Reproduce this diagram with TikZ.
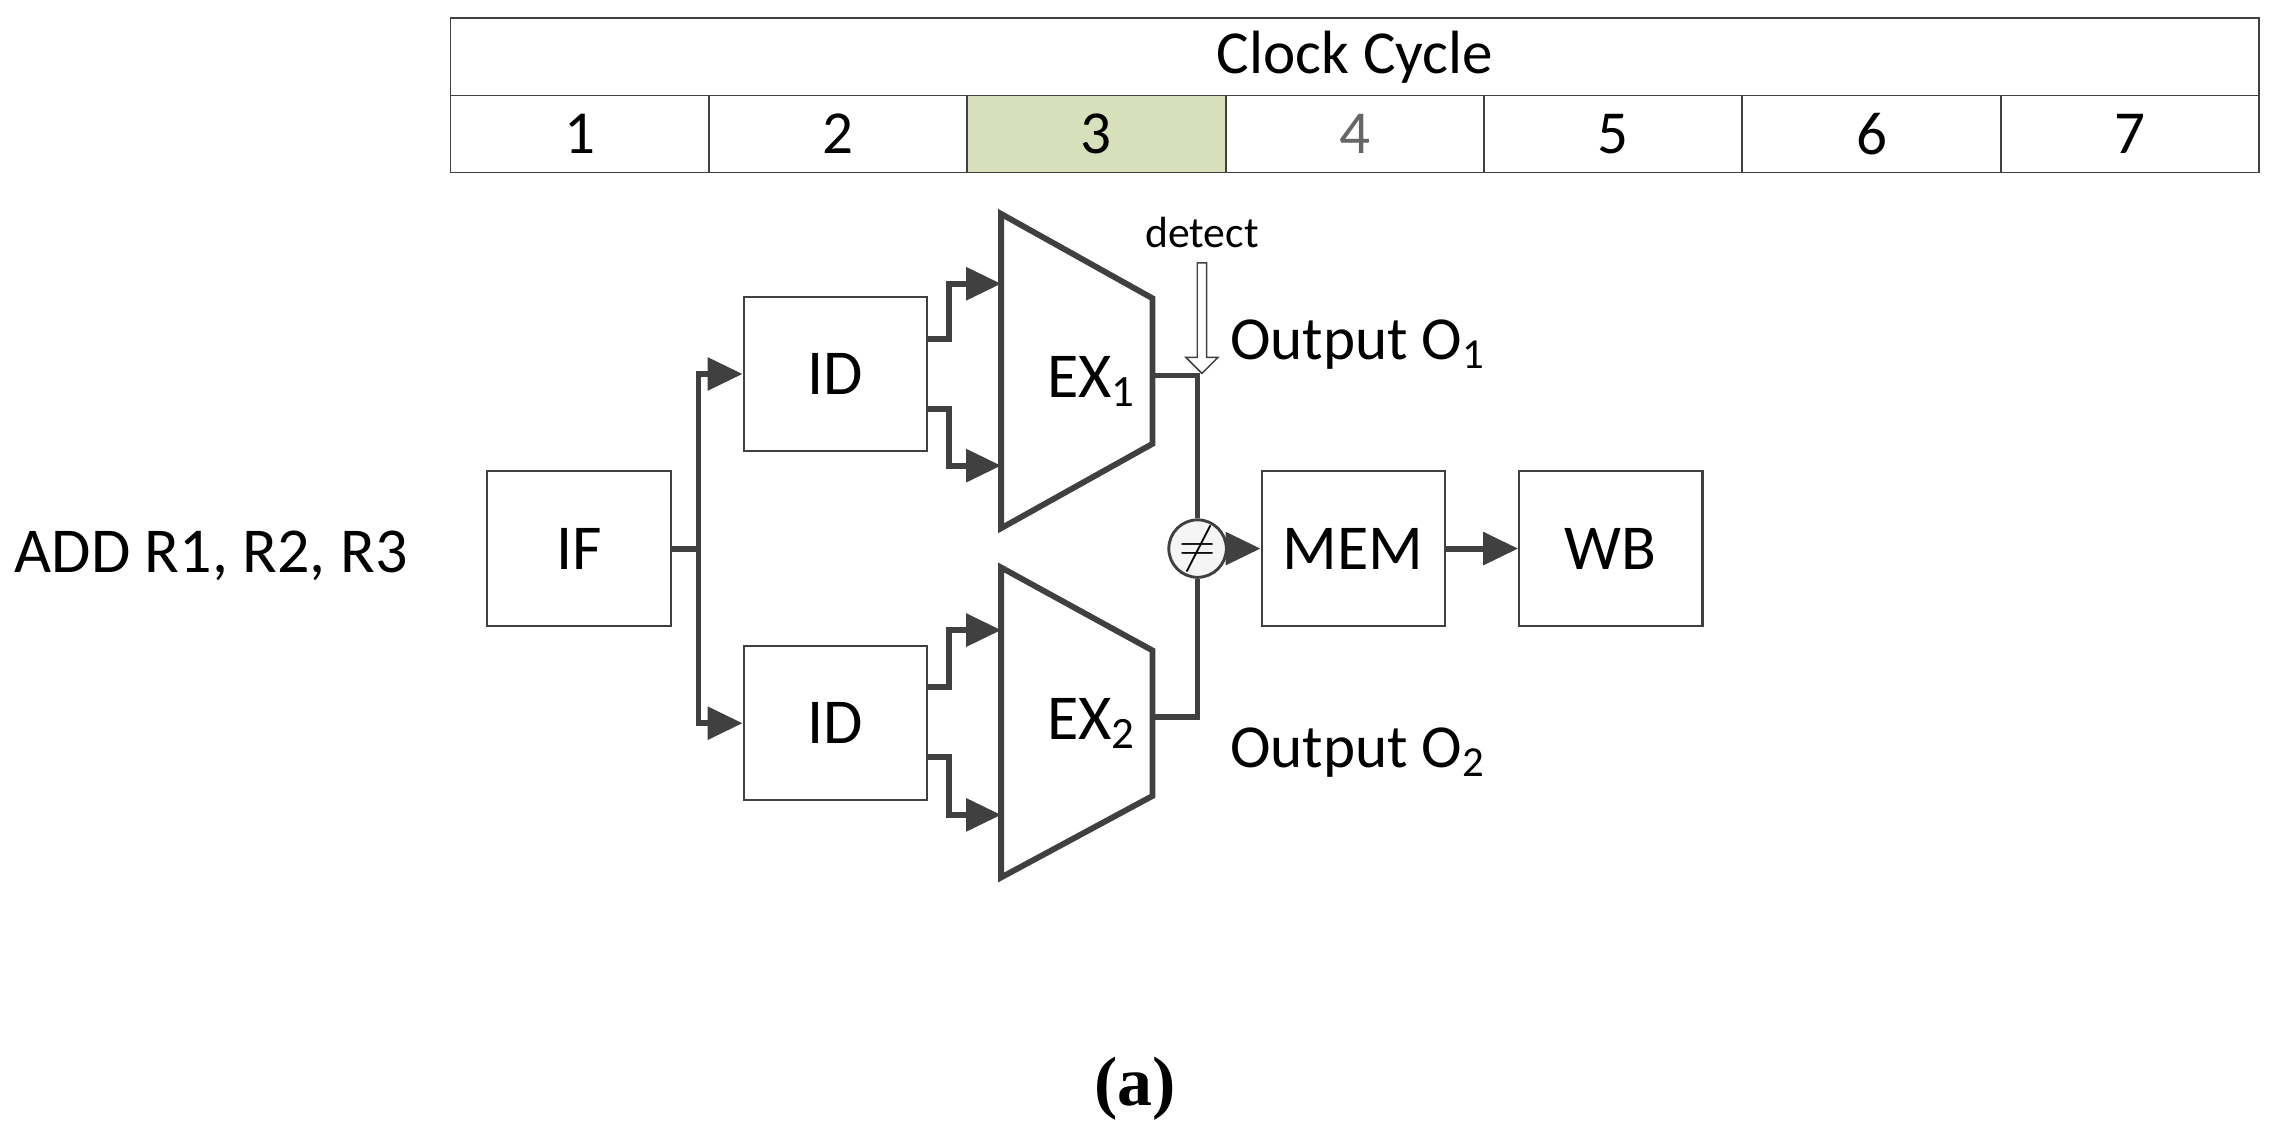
\documentclass[tikz,border=0pt]{standalone}
\usepackage{fontspec}
\setmainfont{Carlito}
\newfontfamily\serifx{Liberation Serif}
\usetikzlibrary{arrows.meta,shapes.arrows}
\definecolor{dk}{HTML}{404040}
\definecolor{gr}{HTML}{D7E0BA}
\begin{document}
\begin{tikzpicture}[x=0.5pt,y=-0.5pt,
  box/.style={draw=dk,line width=0.7pt,minimum width=63pt,minimum height=53pt,inner sep=0pt,font=\fontsize{22}{24}\selectfont},
  cell/.style={draw=dk,line width=0.6pt,minimum width=88.75pt,minimum height=26.5pt,inner sep=0pt,font=\fontsize{21}{24}\selectfont},
  wire/.style={draw=dk,line width=2pt},
  arr/.style={wire,-{Triangle[length=12pt,width=11pt]}},
  lbl/.style={font=\fontsize{21}{24}\selectfont,anchor=west,inner sep=0pt}]
\useasboundingbox (0,0) rectangle (1560,787.6);
% table
\node[cell,minimum width=621.5pt,anchor=north west] (cc) at (309,12) {Clock Cycle};
\foreach \i/\c in {1/black,2/black,3/black,4/dk!80,5/black,6/black,7/black}{
  \node[cell,anchor=north west,text=\c] (c\i) at ({309+(\i-1)*177.57},65) {\i};}
\node[cell,anchor=north west,fill=gr] (c3f) at ({309+2*177.57},65) {3};
% boxes
\node[box] (IF) at (398,377) {IF};
\node[box] (ID1) at (574,257) {ID};
\node[box] (ID2) at (574,497) {ID};
\node[box] (MEM) at (930,377) {MEM};
\node[box] (WB) at (1107,377) {WB};
% EX trapezoids
\draw[wire] (688,147) -- (792,205) -- (792,305) -- (688,363) -- cycle;
\draw[wire] (688,390) -- (792,447) -- (792,547) -- (688,603) -- cycle;
\node[font=\fontsize{22}{24}\selectfont] (EX1) at (750,262) {EX\textsubscript{1}};
\node[font=\fontsize{22}{24}\selectfont] (EX2) at (750,497) {EX\textsubscript{2}};
\coordinate (ex1o) at (792,258);
\coordinate (ex2o) at (792,493);
\node[draw=dk,line width=1pt,circle,fill=gray!8,minimum size=16pt,inner sep=0pt,font=\fontsize{18}{20}\selectfont] (ne) at (823,377) {$\neq$};
% wires
\coordinate (j) at (480,377);
\draw[wire] (IF.east) -- (j);
\draw[arr] (j) |- (ID1.west);
\draw[arr] (j) |- (ID2.west);
\draw[arr] (637,233) -- (652,233) |- (688,195);
\draw[arr] (637,281) -- (652,281) |- (688,320);
\draw[arr] (637,472) -- (652,472) |- (688,433);
\draw[arr] (637,520) -- (652,520) |- (688,560);
\draw[wire] (ex1o) -| (ne.north);
\draw[wire] (ex2o) -| (ne.south);
\draw[arr] (ne.east) -- (MEM.west);
\draw[arr] (MEM.east) -- (WB.west);
% detect arrow
\node[single arrow,shape border rotate=270,draw=dk,line width=0.5pt,fill=white,minimum width=11pt,single arrow head extend=3pt,single arrow tip angle=90,minimum height=38pt,inner sep=1pt] (det) at (826,217) {};
\node[font=\fontsize{15}{17}\selectfont] (dt) at (826,160) {detect};
\node[lbl] (o1) at (845,237) {Output O\textsubscript{1}};
\node[lbl] (o2) at (845,517) {Output O\textsubscript{2}};
\node[font=\fontsize{22}{24}\selectfont] (add) at (145,382) {ADD R1, R2, R3};
\node[font=\serifx\bfseries\fontsize{24}{26}\selectfont] (a) at (780,748) {(a)};
\end{tikzpicture}
\end{document}
